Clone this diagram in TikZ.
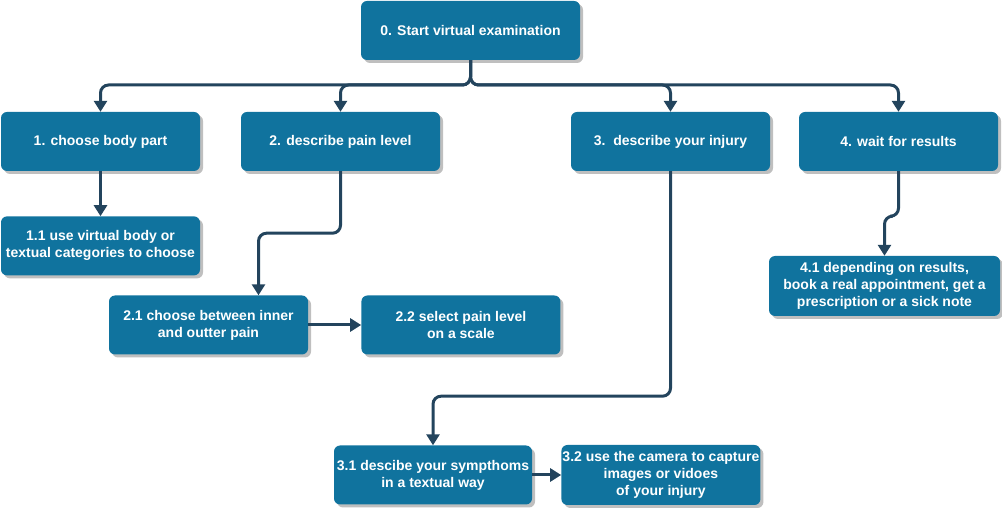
\documentclass[tikz,border=0pt]{standalone}
\usepackage{fontspec}
\setmainfont{Liberation Sans}
\usetikzlibrary{positioning, arrows.meta, shadows}
\definecolor{boxblue}{HTML}{10739E}
\definecolor{linkblue}{HTML}{23445D}

\begin{document}
\begin{tikzpicture}[x=1pt, y=-1pt,
        stage/.style={rectangle, rounded corners=6pt, fill=boxblue, text=white,
            font=\bfseries\fontsize{14}{17}\selectfont, align=center,
            minimum width=199pt, minimum height=59pt, inner xsep=0pt,
            drop shadow={shadow xshift=3pt, shadow yshift=-3pt, fill=black, opacity=0.25}},
        link/.style={draw=linkblue, line width=3pt, rounded corners=8pt,
            -{Triangle[width=13pt,length=11pt]}}]
        \useasboundingbox (0,0) rectangle (1002,510);

        \node[stage,minimum width=219pt] (s_0) at (470.5,30.5) {0. Start virtual examination};
        \node[stage] (s_1) at (100.5,141.5) {1. choose body part};
        \node[stage] (s_2) at (340.5,141.5) {2. describe pain level};
        \node[stage] (s_3) at (670.5,141.5) {3.\ \ describe your injury};
        \node[stage] (s_4) at (898.5,141.5) {4. wait for results};
        \node[stage] (s_11) [below=45pt of s_1] {1.1 use virtual body or\\textual categories to choose};
        \node[stage] (s_21) at (208.5,325) {2.1 choose between inner\\and outter pain};
        \node[stage] (s_22) [right=53pt of s_21] {2.2 select pain level\\on a scale};
        \node[stage,minimum width=198pt] (s_31) at (433,475) {3.1 descibe your sympthoms\\in a textual way};
        \node[stage,minimum width=199pt,minimum height=60pt] (s_32) [right=29pt of s_31] {3.2 use the camera to capture\\images or vidoes\\of your injury};
        \node[stage,minimum width=231pt,minimum height=60pt] (s_41) at (884.5,286) {4.1 depending on results,\\book a real appointment, get a\\prescription or a sick note};

        \coordinate (bus) at (470.5,85);
        \draw[link] (s_0.south) -- (bus) -| (s_1.north);
        \draw[link] (s_0.south) -- (bus) -| (s_2.north);
        \draw[link] (s_0.south) -- (bus) -| (s_3.north);
        \draw[link] (s_0.south) -- (bus) -| (s_4.north);
        \draw[link] (s_1) -- (s_11);
        \draw[link] (s_2.south) -- ++(0,62) -| ([xshift=50pt]s_21.north);
        \draw[link] (s_21) -- (s_22);
        \draw[link] (s_3.south) -- ++(0,225) -| (s_31.north);
        \draw[link] (s_31) -- (s_32);
        \draw[link] (s_4.south) -- ++(0,45) -| (s_41.north);
    \end{tikzpicture}
\end{document}
